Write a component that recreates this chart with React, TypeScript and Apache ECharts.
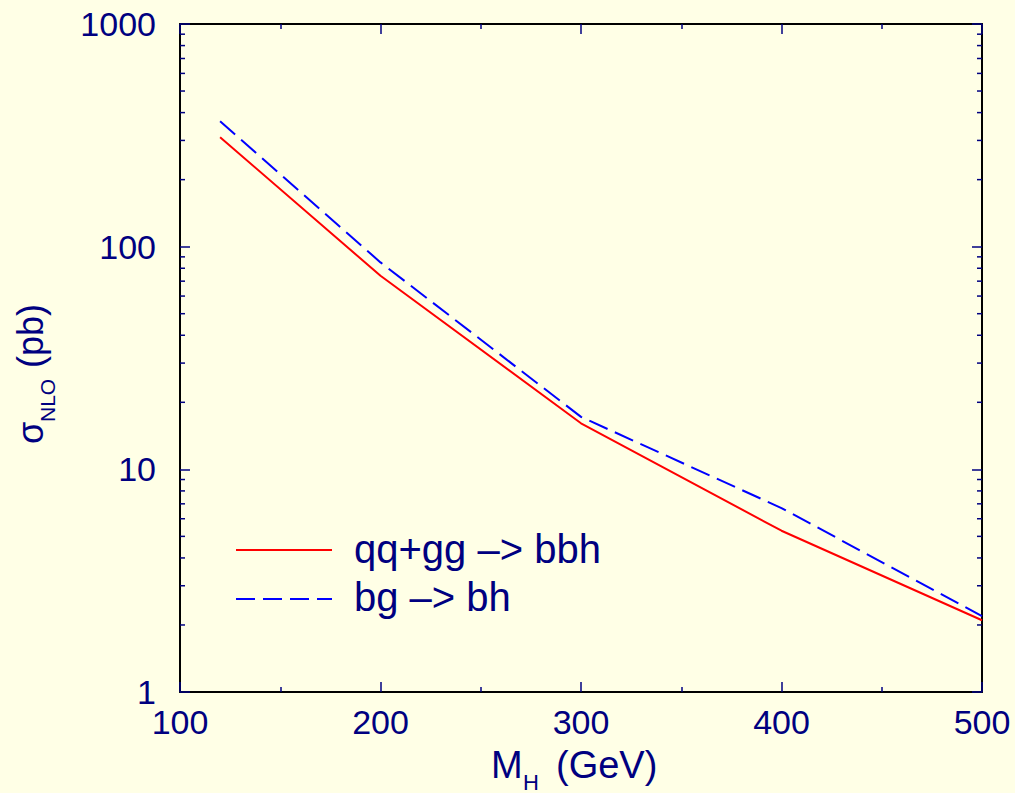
import { useEffect, useRef } from 'react';
import * as echarts from 'echarts';

// Higgs mass points (GeV) and NLO cross sections (pb)
const massGeV = [120, 200, 300, 400, 500];
const sigmaQqGg = [310, 74, 16.1, 5.3, 2.1];
const sigmaBg = [366, 85, 17.2, 6.7, 2.19];

const seriesNames = ['qq+gg –> bbh', 'bg –> bh'];

// Axis ranges
const X_MIN = 100;
const X_MAX = 500;
const X_STEP = 100;
const Y_MIN = 1;
const Y_MAX = 1000;

// Minor tick positions on the logarithmic axis (2..9 in each decade)
const yMinorTicks = [
  2, 3, 4, 5, 6, 7, 8, 9,
  20, 30, 40, 50, 60, 70, 80, 90,
  200, 300, 400, 500, 600, 700, 800, 900,
];

const NAVY = '#000080';
const FONT = "'Liberation Sans', Arial, Helvetica, sans-serif";
const BG = '#ffffe6';

export default function App() {
  const ref = useRef<HTMLDivElement>(null);

  useEffect(() => {
    if (!ref.current) return;
    const chart = echarts.init(ref.current, null, { renderer: 'svg' });

    const grid = { left: 180, right: 33, top: 24, bottom: 101 };

    const xAxisBase = {
      type: 'value' as const,
      min: X_MIN,
      max: X_MAX,
      interval: X_STEP,
      axisLine: { show: true, onZero: false, lineStyle: { color: '#000', width: 2 } },
      axisTick: { show: true, inside: true, length: 10, lineStyle: { color: NAVY, width: 1.5 } },
      minorTick: { show: true, splitNumber: 2, length: 5, lineStyle: { color: NAVY, width: 1.5 } },
      splitLine: { show: false },
    };

    const yAxisBase = {
      type: 'log' as const,
      logBase: 10,
      min: Y_MIN,
      max: Y_MAX,
      axisLine: { show: true, onZero: false, lineStyle: { color: '#000', width: 2 } },
      axisTick: { show: true, inside: true, length: 10, lineStyle: { color: NAVY, width: 1.5 } },
      splitLine: { show: false },
    };

    chart.setOption({
      animation: false,
      backgroundColor: BG,
      textStyle: { fontFamily: FONT },
      grid,
      xAxis: [
        {
          ...xAxisBase,
          position: 'bottom',
          axisLabel: { show: true, color: NAVY, fontSize: 34, fontFamily: FONT, margin: 13 },
        },
        {
          ...xAxisBase,
          position: 'top',
          axisLabel: { show: false },
        },
      ],
      yAxis: [
        {
          ...yAxisBase,
          position: 'left',
          axisLabel: {
            show: true,
            color: NAVY,
            fontSize: 34,
            fontFamily: FONT,
            margin: 24,
            formatter: (v: number) => String(Math.round(v)),
          },
        },
        {
          ...yAxisBase,
          position: 'right',
          axisLabel: { show: false },
        },
      ],
      series: [
        {
          name: seriesNames[0],
          type: 'line',
          xAxisIndex: 0,
          yAxisIndex: 0,
          data: massGeV.map((m, i) => [m, sigmaQqGg[i]]),
          showSymbol: false,
          symbol: 'none',
          lineStyle: { color: '#ff0000', width: 2 },
          z: 3,
        },
        {
          name: seriesNames[1],
          type: 'line',
          xAxisIndex: 0,
          yAxisIndex: 0,
          data: massGeV.map((m, i) => [m, sigmaBg[i]]),
          showSymbol: false,
          symbol: 'none',
          lineStyle: { color: '#0000ff', width: 2, type: [20, 8] },
          z: 4,
        },
        {
          // minor ticks of the log axes, on both the left and right frame edges
          type: 'custom',
          xAxisIndex: 0,
          yAxisIndex: 0,
          silent: true,
          clip: false,
          data: yMinorTicks.map((v) => [X_MIN, v]),
          encode: { x: 0, y: 1 },
          renderItem: (_params: any, api: any) => {
            const v = api.value(1);
            const left = api.coord([X_MIN, v]);
            const right = api.coord([X_MAX, v]);
            const style = { stroke: NAVY, lineWidth: 1.5 };
            return {
              type: 'group',
              children: [
                { type: 'line', shape: { x1: left[0], y1: left[1], x2: left[0] + 5, y2: left[1] }, style },
                { type: 'line', shape: { x1: right[0] - 5, y1: right[1], x2: right[0], y2: right[1] }, style },
              ],
            };
          },
          z: 5,
        },
      ],
      graphic: [
        // legend
        {
          type: 'line',
          shape: { x1: 236, y1: 550, x2: 332, y2: 550 },
          style: { stroke: '#ff0000', lineWidth: 2 },
        },
        {
          type: 'line',
          shape: { x1: 236, y1: 599, x2: 332, y2: 599 },
          style: { stroke: '#0000ff', lineWidth: 2, lineDash: [19, 8] },
        },
        {
          type: 'text',
          x: 354,
          y: 549,
          style: { text: seriesNames[0], fill: NAVY, font: `40px ${FONT}`, align: 'left', verticalAlign: 'middle' },
        },
        {
          type: 'text',
          x: 354,
          y: 597,
          style: { text: seriesNames[1], fill: NAVY, font: `40px ${FONT}`, align: 'left', verticalAlign: 'middle' },
        },
        // x-axis title: M_H (GeV)
        {
          type: 'text',
          x: 491,
          y: 765,
          style: { text: 'M', fill: NAVY, font: `38px ${FONT}`, align: 'left', verticalAlign: 'middle' },
        },
        {
          type: 'text',
          x: 523,
          y: 782,
          style: { text: 'H', fill: NAVY, font: `22px ${FONT}`, align: 'left', verticalAlign: 'middle' },
        },
        {
          type: 'text',
          x: 556,
          y: 765,
          style: { text: '(GeV)', fill: NAVY, font: `38px ${FONT}`, align: 'left', verticalAlign: 'middle' },
        },
        // y-axis title: σ_NLO (pb), rotated to read bottom-to-top
        {
          type: 'group',
          x: 30,
          y: 444,
          rotation: Math.PI / 2,
          children: [
            {
              type: 'text',
              x: 0,
              y: 0,
              style: { text: 'σ', fill: NAVY, font: `36px ${FONT}`, align: 'left', verticalAlign: 'middle' },
            },
            {
              type: 'text',
              x: 22,
              y: 17,
              style: { text: 'NLO', fill: NAVY, font: `21px ${FONT}`, align: 'left', verticalAlign: 'middle' },
            },
            {
              type: 'text',
              x: 76,
              y: 0,
              style: { text: '(pb)', fill: NAVY, font: `36px ${FONT}`, align: 'left', verticalAlign: 'middle' },
            },
          ],
        },
      ],
    });

    return () => {
      chart.dispose();
    };
  }, []);

  return (
    <div
      ref={ref}
      style={{ position: 'fixed', left: 0, top: 0, width: 1015, height: 793, background: BG }}
    />
  );
}
